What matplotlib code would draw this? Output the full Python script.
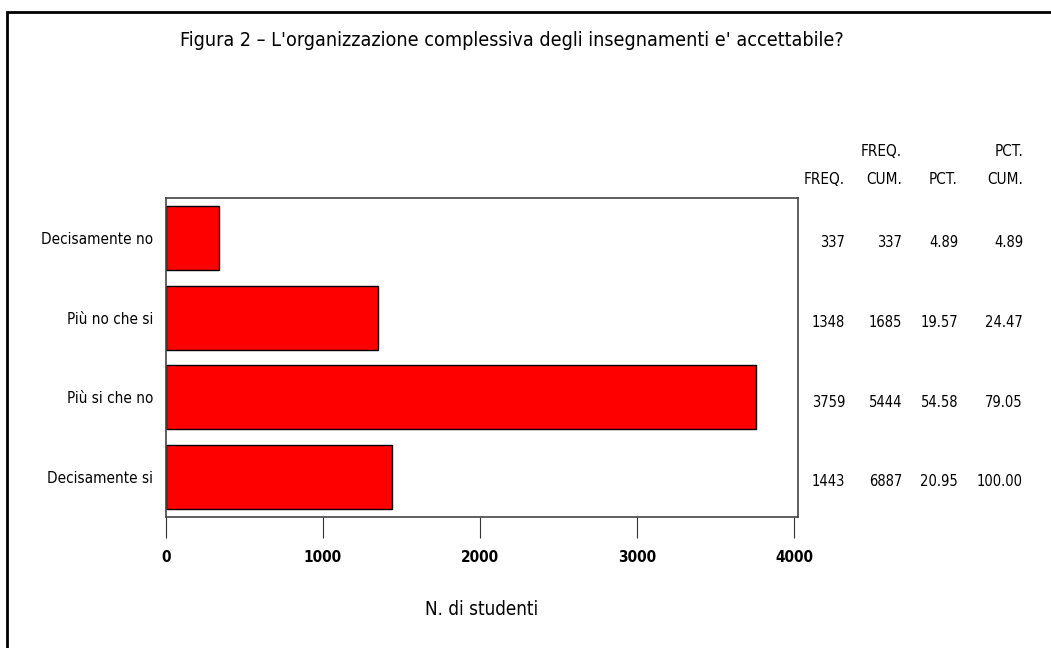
import matplotlib
matplotlib.use("Agg")
import matplotlib.pyplot as plt
from matplotlib.transforms import blended_transform_factory
from matplotlib.patches import Rectangle

categories = ["Decisamente no", "Più no che si", "Più si che no", "Decisamente si"]
freq = [337, 1348, 3759, 1443]
freq_cum = [337, 1685, 5444, 6887]
pct = [4.89, 19.57, 54.58, 20.95]
pct_cum = [4.89, 24.47, 79.05, 100.00]
x_ticks = [0, 1000, 2000, 3000, 4000]

title = "Figura 2 \u2013 L'organizzazione complessiva degli insegnamenti e' accettabile?"
x_label = "N. di studenti"

# narrow look of the original SAS fonts
plt.rcParams["font.family"] = ["DejaVu Sans"]
plt.rcParams["font.stretch"] = "condensed"

fig = plt.figure(figsize=(10.51, 6.48), dpi=100)
fig.patch.set_facecolor("white")

# outer border (only top and left visible in the original)
fig.patches.append(Rectangle((7 / 1051, -0.05), 1.1, 1 - 12 / 648 + 0.05,
                             transform=fig.transFigure, fill=False,
                             edgecolor="black", linewidth=2))

ax = fig.add_axes([165.7 / 1051, 1 - 517 / 648, 632.6 / 1051, 319 / 648])
ypos = list(range(len(categories)))
ax.barh(ypos, freq, height=0.8, color="#ff0000", edgecolor="black", linewidth=1)
ax.set_ylim(3.5, -0.5)
ax.set_xlim(0, 4025)
ax.set_yticks(ypos)
ax.set_yticklabels(categories, fontsize=11)
ax.tick_params(axis="y", length=0, pad=9)
ax.set_xticks(x_ticks)
ax.set_xticklabels([str(t) for t in x_ticks], fontsize=11, fontweight="bold")
ax.tick_params(axis="x", length=15, direction="out", pad=9, color="#333333")
ax.set_xlabel(x_label, fontsize=13.5, labelpad=25)
for s in ax.spines.values():
    s.set_color("#444444")
    s.set_linewidth(1.2)

fig.text(512 / 1051, 1 - 40 / 648, title, ha="center", va="center", fontsize=14.1)

# statistics table on the right
tr = blended_transform_factory(fig.transFigure, ax.transData)
col_x = [845, 902, 958, 1023]
headers_top = ["", "FREQ.", "", "PCT."]
headers_bot = ["FREQ.", "CUM.", "PCT.", "CUM."]
for cx, h1, h2 in zip(col_x, headers_top, headers_bot):
    fig.text(cx / 1051, 1 - 152 / 648, h1, ha="right", va="center", fontsize=11)
    fig.text(cx / 1051, 1 - 179 / 648, h2, ha="right", va="center", fontsize=11)
columns = [[str(v) for v in freq], [str(v) for v in freq_cum],
           ["%.2f" % v for v in pct], ["%.2f" % v for v in pct_cum]]
for cx, col in zip(col_x, columns):
    for y, val in zip(ypos, col):
        ax.text(cx / 1051, y + 0.06, val, transform=tr, ha="right", va="center",
                fontsize=10.5, clip_on=False)

fig.savefig("out.png", dpi=100, facecolor="white")
